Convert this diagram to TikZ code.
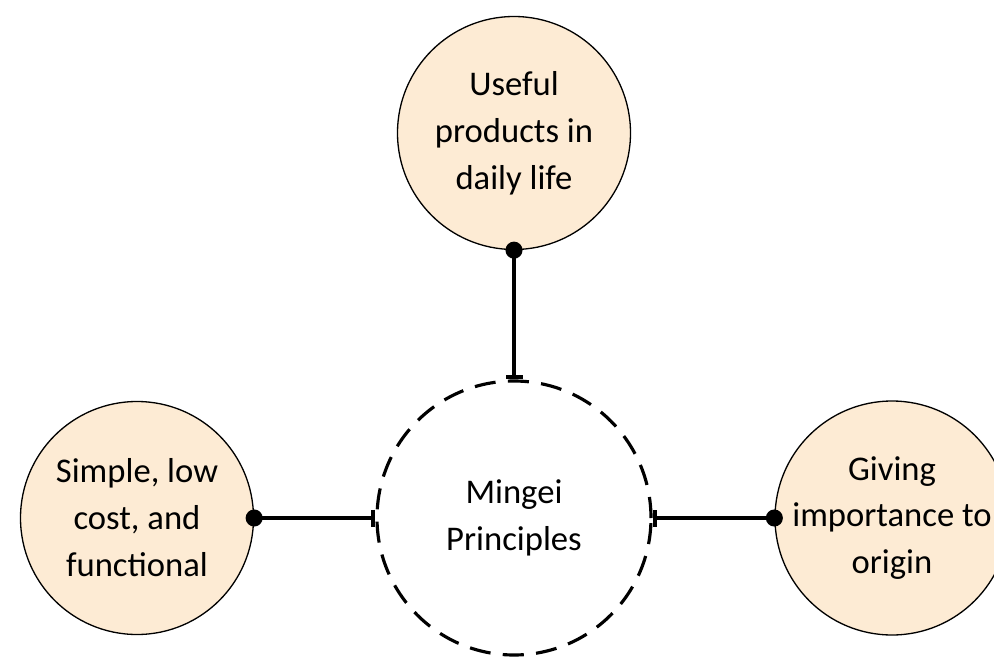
\documentclass[tikz,border=0pt]{standalone}
\usepackage{fontspec}
\setmainfont{Carlito}
\usetikzlibrary{arrows.meta, positioning}
\definecolor{peach}{RGB}{253,235,212}
\tikzset{
    idea/.style={draw, line width=0.75pt, fill=peach, circle, minimum size=4.66cm,
        inner sep=0pt, align=center, font=\fontsize{19.7}{26.7}\selectfont},
    core/.style={draw, line width=1.8pt, dash pattern=on 12pt off 7pt, circle,
        minimum size=5.48cm, inner sep=0pt, align=center,
        font=\fontsize{19.7}{26.7}\selectfont},
    link/.style={line width=2.3pt, {Circle[length=0.34cm]}-{Bar[width=0.34cm, line width=2.3pt]},
        shorten <=-0.17cm}
}
\begin{document}
\begin{tikzpicture}
    \useasboundingbox (0,0) rectangle (19.88,-13.16);
    \clip (0,0) rectangle (19.88,-13.16);
    % middle
    \node[core] (mingei) at (10.28,-10.36) {Mingei\\Principles};
    % the three principles
    \node[idea] (useful) at (10.28,-2.66) {Useful\\products in\\daily life};
    \node[idea] (simple) at (2.74,-10.36) {Simple, low\\cost, and\\functional};
    \node[idea] (origin) at (17.84,-10.36) {Giving\\importance to\\origin};
    \draw[link] (useful) -- (mingei);
    \draw[link] (simple) -- (mingei);
    \draw[link] (origin) -- (mingei);
\end{tikzpicture}
\end{document}
